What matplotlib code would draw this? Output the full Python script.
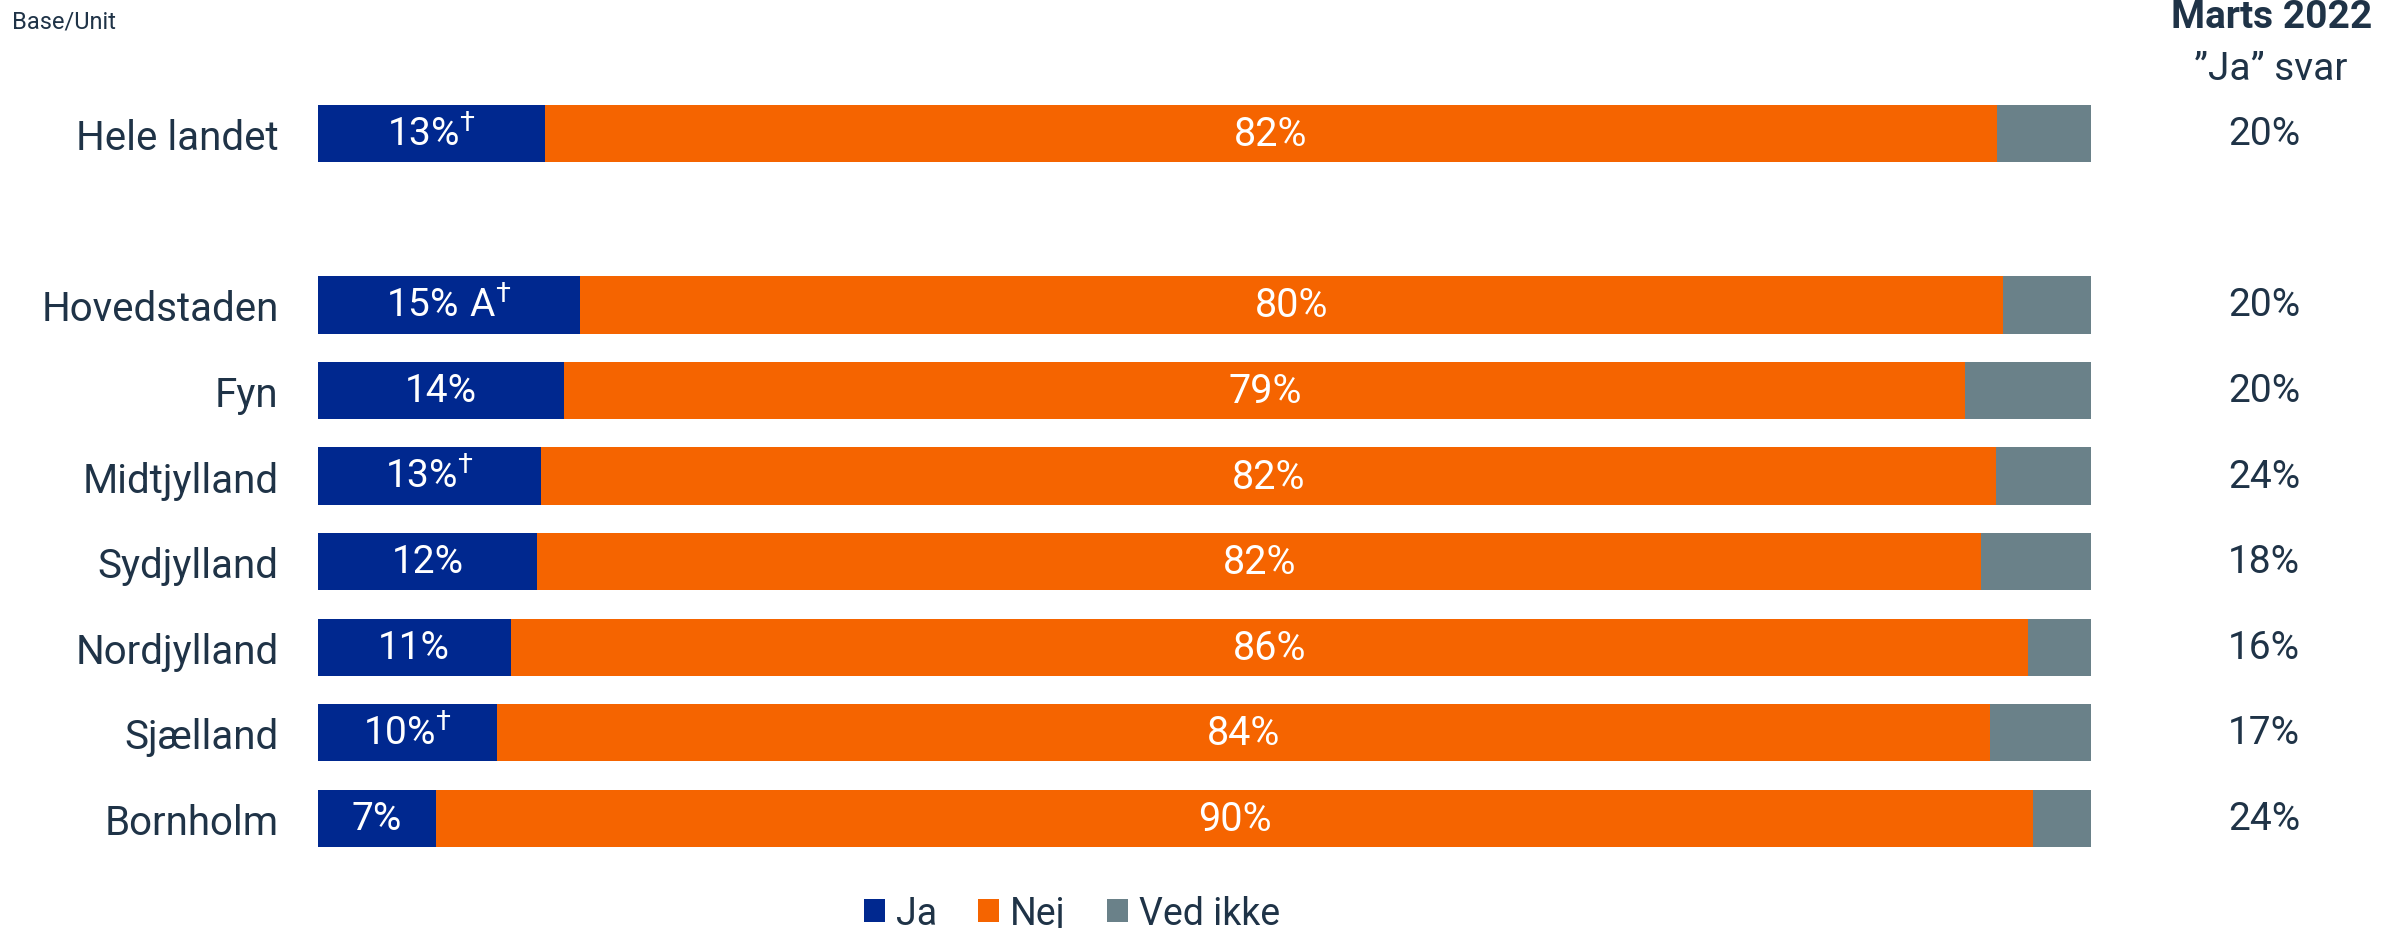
import matplotlib
matplotlib.use("Agg")
import matplotlib.pyplot as plt
from matplotlib.patches import Patch
import numpy as np

plt.rcParams['font.family'] = ['Roboto', 'DejaVu Sans']
plt.rcParams['mathtext.fontset'] = 'custom'
plt.rcParams['mathtext.rm'] = 'Roboto'
plt.rcParams['mathtext.it'] = 'Roboto'
plt.rcParams['mathtext.bf'] = 'Roboto:bold'
plt.rcParams['mathtext.default'] = 'regular'

categories = ["Hele landet", "Hovedstaden", "Fyn", "Midtjylland", "Sydjylland",
              "Nordjylland", "Sjælland", "Bornholm"]
rows = [0, 2, 3, 4, 5, 6, 7, 8]
ja = [12.8, 14.8, 13.9, 12.6, 12.4, 10.9, 10.1, 6.7]
nej = [81.9, 80.2, 79.0, 82.0, 81.4, 85.5, 84.2, 90.0]
ved_ikke = [5.3, 5.0, 7.1, 5.4, 6.2, 3.6, 5.7, 3.3]
ja_labels = [r"$13\%^{\dagger}$", r"$15\%\ A^{\dagger}$", "14%", r"$13\%^{\dagger}$", "12%",
             "11%", r"$10\%^{\dagger}$", "7%"]
nej_labels = ["82%", "80%", "79%", "82%", "82%", "86%", "84%", "90%"]
marts_2022 = ["20%", "20%", "20%", "24%", "18%", "16%", "17%", "24%"]
series_names = ["Ja", "Nej", "Ved ikke"]

c_ja = "#00288F"
c_nej = "#F56400"
c_ved = "#6A8189"
txt = "#1F3347"

fig = plt.figure(figsize=(23.82, 9.29), dpi=100)
ax = fig.add_axes([0.1333, 0.072, 0.878 - 0.1333, 0.829])

h = 0.67
ja_a = np.array(ja)
nej_a = np.array(nej)
ved_a = np.array(ved_ikke)
ax.barh(rows, ja_a, height=h, color=c_ja, linewidth=0)
ax.barh(rows, nej_a, left=ja_a, height=h, color=c_nej, linewidth=0)
ax.barh(rows, ved_a, left=ja_a + nej_a, height=h, color=c_ved, linewidth=0)

for r, j, n, jl, nl in zip(rows, ja_a, nej_a, ja_labels, nej_labels):
    ax.text(j / 2, r, jl, ha="center", va="center", color="white", fontsize=28)
    ax.text(j + n / 2, r, nl, ha="center", va="center", color="white", fontsize=28.5)

ax.set_xlim(0, 100)
ax.set_ylim(8.5, -0.5)
ax.set_yticks(rows)
ax.set_yticklabels(categories, fontsize=29, color=txt)
ax.tick_params(axis="y", length=0, pad=28)
ax.set_xticks([])
for s in ax.spines.values():
    s.set_visible(False)

# right column
for r, v in zip(rows, marts_2022):
    ax.text(1.0973, r, v, transform=ax.get_yaxis_transform(), ha="center",
            va="center", fontsize=28, color=txt)
fig.text(0.9535, 1 - 18 / 929, "Marts 2022", ha="center", va="center",
         fontsize=28, fontweight="bold", color=txt)
fig.text(0.9535, 1 - 69 / 929, "”Ja” svar", ha="center", va="center",
         fontsize=28, color=txt)

fig.text(12 / 2382, 1 - 22 / 929, "Base/Unit", ha="left", va="center",
         fontsize=17, color=txt)

handles = [Patch(color=c, linewidth=0) for c in (c_ja, c_nej, c_ved)]
leg = fig.legend(handles, series_names, loc="center", bbox_to_anchor=(0.45, 0.016),
                 ncol=3, frameon=False, fontsize=27, handlelength=0.55,
                 handleheight=0.55, handletextpad=0.3, columnspacing=1.1)
for t in leg.get_texts():
    t.set_color(txt)

fig.savefig("out.png", dpi=100)
